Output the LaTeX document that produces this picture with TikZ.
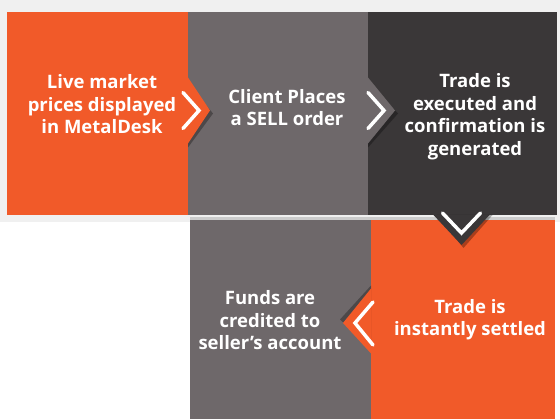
\documentclass[tikz,border=0pt]{standalone}
\usepackage{fontspec}
\setsansfont{Open Sans}
\usepackage{tikz}
\usetikzlibrary{positioning}
\definecolor{mdorange}{RGB}{241,90,41}
\definecolor{mdgray}{RGB}{110,104,106}
\definecolor{mddark}{RGB}{58,55,56}

\begin{document}
\begin{tikzpicture}[x=1pt,y=-1pt,
    box/.style={rectangle,inner sep=0pt,outer sep=0pt},
    boxtext/.style={text=white,align=center,inner sep=0pt,
      font={\sffamily\bfseries\fontsize{18.5}{22.5}\selectfont}},
    tabshadow/.style={fill=black,opacity=0.3},
    chev/.style={draw=white,line width=3.5pt,line cap=round,line join=miter}]
	\useasboundingbox (0,0) rectangle (560,419);
	\fill[black!6] (0,0) rectangle (560,222);
	
	\node[box,fill=mdorange,minimum width=181pt,minimum height=203pt] (live) at (97.5,113.5) {};
	\node[box,fill=mdgray,minimum width=180pt,minimum height=203pt,right=0pt of live] (order) {};
	\node[box,fill=mddark,minimum width=189pt,minimum height=203pt,right=0pt of order] (trade) {};
	
	\node[box,fill=mdorange,minimum width=184pt,minimum height=199pt] (settle) at (463,319.5) {};
	\node[box,fill=mdgray,minimum width=181pt,minimum height=199pt,left=0pt of settle] (funds) {};
	
	\fill[black!20] ([shift={(0,-3)}]funds.north west) rectangle (settle.north east);
	
	\foreach \a/\c/\t in {live/mdorange/22,order/mdgray/27}{
		\fill[tabshadow] ([shift={(0,-30)}]\a.east) -- ([shift={(\t+3,0)}]\a.east) -- ([shift={(0,34)}]\a.east) -- cycle;
		\fill[\c] ([shift={(0,-36)}]\a.east) -- ([shift={(\t,-3)}]\a.east) -- ([shift={(0,30)}]\a.east) -- cycle;
		\draw[chev] ([shift={(\t-27,-21)}]\a.east) -- ([shift={(\t-11,-3)}]\a.east) -- ([shift={(\t-27,15)}]\a.east);
	}
	
	% down to the settled trade
	\fill[tabshadow] ([shift={(-26,0)}]trade.south) -- ([shift={(1,33)}]trade.south) -- ([shift={(30,0)}]trade.south) -- cycle;
	\fill[mddark] ([shift={(-29,0)}]trade.south) -- ([shift={(-1,30)}]trade.south) -- ([shift={(27,0)}]trade.south) -- cycle;
	\draw[chev] ([shift={(-20,-2)}]trade.south) -- ([shift={(-1,18)}]trade.south) -- ([shift={(18,-2)}]trade.south);
	
	% back to the seller
	\fill[tabshadow] ([shift={(0,-34)}]settle.west) -- ([shift={(-31,0)}]settle.west) -- ([shift={(0,28)}]settle.west) -- cycle;
	\fill[mdorange] ([shift={(0,-31)}]settle.west) -- ([shift={(-28,3.5)}]settle.west) -- ([shift={(0,34)}]settle.west) -- cycle;
	\draw[chev] ([shift={(2,-17.5)}]settle.west) -- ([shift={(-16,3.5)}]settle.west) -- ([shift={(2,25.5)}]settle.west);
	
	\node[boxtext] (livetext) at ([shift={(4.5,-9)}]live.center) {Live market\\prices displayed\\in MetalDesk};
	\node[boxtext] (ordertext) at ([shift={(9,-6)}]order.center) {Client Places\\a SELL order};
	\node[boxtext] (tradetext) at ([shift={(12.5,3)}]trade.center) {Trade is\\executed and\\confirmation is\\generated};
	\node[boxtext] (fundstext) at ([shift={(-10.5,1)}]funds.center) {Funds are\\credited to\\seller's account};
	\node[boxtext] (settletext) at ([shift={(7,0)}]settle.center) {Trade is\\instantly settled};
\end{tikzpicture}
\end{document}
